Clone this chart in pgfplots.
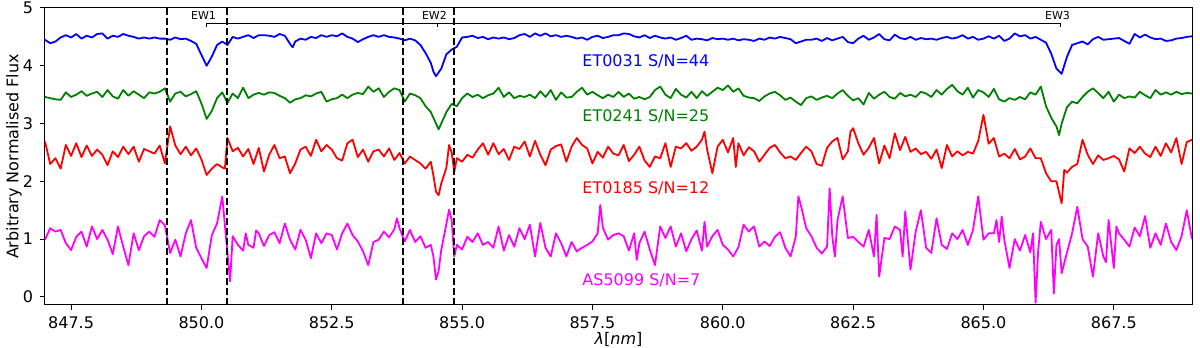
\documentclass[border=0pt]{standalone}
\usepackage{fontspec}
\setmainfont{DejaVu Sans}
\usepackage{pgfplots}
\pgfplotsset{compat=1.18}
\definecolor{mplblue}{rgb}{0,0,1}
\definecolor{mplgreen}{rgb}{0,0.5,0}
\definecolor{mplred}{rgb}{1,0,0}
\definecolor{mplmagenta}{rgb}{1,0,1}

\begin{document}
\begin{tikzpicture}
\begin{axis}[
  scale only axis, width=573.5pt, height=148.5pt,
  xmin=847, xmax=869, ymin=-0.14, ymax=5,
  xtick={847.5,850,852.5,855,857.5,860,862.5,865,867.5},
  ytick={0,1,2,3,4,5},
  tick align=outside, tick pos=left, major tick length=2.5pt,
  tick style={line width=0.5pt, black},
  font=\fontsize{8}{9.6}\selectfont,
  ticklabel style={font=\fontsize{8}{9.6}\selectfont},
  /pgf/number format/assume math mode=true,
  xticklabel style={/pgf/number format/.cd, fixed, fixed zerofill, precision=1},
  yticklabel style={/pgf/number format/.cd, fixed, precision=0},
  xlabel={\textit{λ}[\textit{nm}]},
  ylabel={Arbitrary Normalised Flux},
  xlabel style={at={([yshift=-17pt]axis description cs:0.5,0)}, anchor=center},
  ylabel style={at={([xshift=-15.5pt]axis description cs:0,0.5)}, anchor=center},
  axis line style={line width=0.5pt},
  every axis plot/.append style={line width=0.9pt, line join=round},
]
% ET0031
\addplot[mplblue] coordinates {
(847.0,4.45)(847.1,4.39)(847.2,4.42)(847.3,4.49)(847.4,4.53)(847.5,4.49)(847.6,4.55)(847.7,4.47)(847.8,4.52)(847.9,4.49)
(848.0,4.55)(848.1,4.56)(848.2,4.47)(848.3,4.52)(848.4,4.50)(848.5,4.55)(848.6,4.52)(848.7,4.50)(848.8,4.47)(848.9,4.49)
(849.0,4.47)(849.1,4.49)(849.2,4.47)(849.3,4.47)(849.4,4.45)(849.5,4.49)(849.6,4.46)(849.7,4.47)(849.8,4.43)(849.9,4.38)
(850.0,4.19)(850.1,4.00)(850.2,4.16)(850.3,4.36)(850.4,4.42)(850.5,4.36)(850.6,4.50)(850.7,4.47)
(850.8,4.50)(850.9,4.53)(851.0,4.48)(851.1,4.53)(851.2,4.53)(851.3,4.52)(851.4,4.50)(851.5,4.55)(851.6,4.52)(851.7,4.38)(851.75,4.32)(851.8,4.42)(851.9,4.47)
(852.0,4.45)(852.1,4.50)(852.2,4.48)(852.3,4.53)(852.4,4.50)(852.5,4.53)(852.6,4.51)(852.7,4.56)(852.8,4.50)(852.9,4.47)
(853.0,4.41)(853.1,4.46)(853.2,4.50)(853.3,4.53)(853.4,4.50)(853.5,4.53)(853.6,4.50)(853.7,4.49)(853.8,4.47)(853.9,4.44)
(854.0,4.47)(854.1,4.44)(854.2,4.36)(854.3,4.22)(854.4,4.05)(854.45,3.90)(854.5,3.82)(854.6,3.95)(854.7,4.20)(854.8,4.28)(854.9,4.33)
(855.0,4.49)(855.1,4.50)(855.2,4.52)(855.3,4.48)(855.4,4.50)(855.5,4.46)(855.6,4.49)(855.7,4.47)(855.8,4.49)(855.9,4.46)
(856.0,4.48)(856.1,4.53)(856.2,4.55)(856.3,4.50)(856.4,4.56)(856.5,4.52)(856.6,4.56)(856.7,4.51)(856.8,4.53)(856.9,4.50)
(857.0,4.52)(857.1,4.50)(857.2,4.47)(857.3,4.49)(857.4,4.45)(857.5,4.50)(857.6,4.52)(857.7,4.48)(857.8,4.50)(857.9,4.53)
(858.0,4.53)(858.1,4.56)(858.2,4.55)(858.3,4.51)(858.4,4.49)(858.5,4.53)(858.6,4.48)(858.7,4.52)(858.8,4.49)(858.9,4.47)
(859.0,4.49)(859.1,4.45)(859.2,4.48)(859.3,4.52)(859.4,4.45)(859.5,4.47)(859.6,4.46)(859.7,4.44)(859.8,4.48)(859.9,4.46)
(860.0,4.47)(860.1,4.45)(860.2,4.47)(860.3,4.44)(860.4,4.46)(860.5,4.45)(860.6,4.43)(860.7,4.47)(860.8,4.45)(860.9,4.49)
(861.0,4.47)(861.1,4.50)(861.2,4.48)(861.3,4.46)(861.4,4.39)(861.5,4.42)(861.6,4.45)(861.7,4.45)(861.8,4.47)(861.9,4.43)
(862.0,4.48)(862.1,4.44)(862.2,4.47)(862.3,4.50)(862.4,4.41)(862.5,4.39)(862.6,4.47)(862.7,4.52)(862.8,4.45)(862.9,4.49)
(863.0,4.55)(863.1,4.46)(863.2,4.44)(863.3,4.54)(863.4,4.48)(863.5,4.46)(863.6,4.50)(863.7,4.45)(863.8,4.48)(863.9,4.46)
(864.0,4.47)(864.1,4.45)(864.2,4.48)(864.3,4.50)(864.4,4.47)(864.5,4.49)(864.6,4.53)(864.7,4.47)(864.8,4.50)(864.9,4.45)
(865.0,4.47)(865.1,4.51)(865.2,4.47)(865.3,4.52)(865.4,4.43)(865.5,4.47)(865.6,4.56)(865.7,4.51)(865.8,4.53)(865.9,4.47)
(866.0,4.50)(866.1,4.45)(866.2,4.40)(866.3,4.21)(866.4,3.95)(866.5,3.86)(866.6,4.15)(866.7,4.36)(866.8,4.39)(866.9,4.42)
(867.0,4.37)(867.1,4.46)(867.2,4.50)(867.3,4.45)(867.4,4.46)(867.5,4.47)(867.6,4.48)(867.7,4.43)(867.8,4.38)(867.9,4.55)
(868.0,4.49)(868.1,4.54)(868.2,4.49)(868.3,4.46)(868.4,4.47)(868.5,4.43)(868.6,4.44)(868.7,4.47)(868.8,4.48)(868.9,4.50)(869.0,4.51)
};
% ET0241
\addplot[mplgreen] coordinates {
(847.0,3.46)(847.1,3.44)(847.2,3.42)(847.3,3.41)(847.4,3.54)(847.5,3.46)(847.6,3.50)(847.7,3.56)(847.8,3.48)(847.9,3.52)
(848.0,3.55)(848.1,3.46)(848.2,3.58)(848.3,3.47)(848.4,3.43)(848.5,3.58)(848.6,3.48)(848.7,3.56)(848.8,3.50)(848.9,3.44)
(849.0,3.54)(849.1,3.52)(849.2,3.55)(849.3,3.61)(849.4,3.38)(849.5,3.52)(849.6,3.55)(849.7,3.47)(849.8,3.51)(849.9,3.56)
(850.0,3.35)(850.1,3.08)(850.2,3.22)(850.3,3.44)(850.4,3.54)(850.5,3.36)(850.6,3.52)(850.7,3.44)
(850.8,3.62)(850.9,3.44)(851.0,3.50)(851.1,3.53)(851.2,3.50)(851.3,3.54)(851.4,3.53)(851.5,3.48)(851.6,3.44)(851.7,3.36)(851.8,3.42)(851.9,3.44)
(852.0,3.49)(852.1,3.47)(852.2,3.52)(852.3,3.55)(852.4,3.38)(852.5,3.42)(852.6,3.44)(852.7,3.50)(852.8,3.44)(852.9,3.50)
(853.0,3.53)(853.1,3.51)(853.2,3.64)(853.3,3.55)(853.4,3.61)(853.5,3.46)(853.6,3.55)(853.7,3.61)(853.8,3.58)(853.9,3.38)
(854.0,3.52)(854.1,3.49)(854.2,3.44)(854.3,3.30)(854.4,3.20)(854.5,3.00)(854.55,2.90)(854.6,3.00)(854.7,3.20)(854.8,3.34)(854.9,3.30)
(855.0,3.44)(855.1,3.52)(855.2,3.46)(855.3,3.50)(855.4,3.44)(855.5,3.49)(855.6,3.52)(855.7,3.62)(855.8,3.46)(855.9,3.54)
(856.0,3.44)(856.1,3.48)(856.2,3.46)(856.3,3.50)(856.4,3.44)(856.5,3.56)(856.6,3.46)(856.7,3.58)(856.8,3.41)(856.9,3.54)
(857.0,3.45)(857.1,3.46)(857.2,3.55)(857.3,3.62)(857.4,3.50)(857.5,3.55)(857.6,3.49)(857.7,3.44)(857.8,3.50)(857.9,3.46)
(858.0,3.55)(858.1,3.46)(858.2,3.52)(858.3,3.43)(858.4,3.46)(858.5,3.42)(858.6,3.46)(858.7,3.58)(858.8,3.64)(858.9,3.50)
(859.0,3.44)(859.1,3.60)(859.2,3.50)(859.3,3.45)(859.4,3.55)(859.5,3.44)(859.6,3.56)(859.7,3.48)(859.8,3.55)(859.9,3.62)
(860.0,3.58)(860.1,3.66)(860.2,3.55)(860.3,3.61)(860.4,3.48)(860.5,3.45)(860.6,3.44)(860.7,3.39)(860.8,3.47)(860.9,3.52)
(861.0,3.55)(861.1,3.49)(861.2,3.41)(861.3,3.45)(861.4,3.38)(861.5,3.32)(861.6,3.44)(861.7,3.47)(861.8,3.41)(861.9,3.45)
(862.0,3.48)(862.1,3.44)(862.2,3.52)(862.3,3.58)(862.4,3.48)(862.5,3.40)(862.6,3.44)(862.7,3.33)(862.8,3.53)(862.9,3.43)
(863.0,3.50)(863.1,3.55)(863.2,3.46)(863.3,3.43)(863.4,3.53)(863.5,3.47)(863.6,3.50)(863.7,3.46)(863.8,3.55)(863.9,3.52)
(864.0,3.46)(864.1,3.58)(864.2,3.50)(864.3,3.60)(864.4,3.67)(864.5,3.56)(864.6,3.50)(864.7,3.62)(864.8,3.45)(864.9,3.58)
(865.0,3.54)(865.1,3.46)(865.2,3.60)(865.3,3.42)(865.4,3.38)(865.5,3.44)(865.6,3.41)(865.7,3.46)(865.8,3.42)(865.9,3.54)
(866.0,3.50)(866.1,3.64)(866.2,3.30)(866.3,3.10)(866.4,2.95)(866.45,2.80)(866.5,3.00)(866.6,3.28)(866.7,3.38)(866.8,3.35)(866.9,3.46)
(867.0,3.55)(867.1,3.61)(867.2,3.53)(867.3,3.44)(867.4,3.55)(867.5,3.38)(867.6,3.50)(867.7,3.44)(867.8,3.47)(867.9,3.45)
(868.0,3.55)(868.1,3.49)(868.2,3.44)(868.3,3.58)(868.4,3.50)(868.5,3.54)(868.6,3.50)(868.7,3.55)(868.8,3.51)(868.9,3.53)(869.0,3.52)
};
% ET0185
\addplot[mplred] coordinates {
(847.0,2.69)(847.1,2.30)(847.2,2.40)(847.3,2.22)(847.4,2.63)(847.5,2.44)(847.6,2.66)(847.7,2.42)(847.8,2.62)(847.9,2.44)
(848.0,2.55)(848.1,2.46)(848.2,2.28)(848.3,2.52)(848.4,2.42)(848.5,2.60)(848.6,2.47)(848.7,2.60)(848.8,2.34)(848.9,2.56)
(849.0,2.52)(849.1,2.48)(849.2,2.62)(849.3,2.31)(849.4,2.95)(849.5,2.62)(849.6,2.47)(849.7,2.60)(849.8,2.45)(849.9,2.57)
(850.0,2.38)(850.1,2.11)(850.2,2.22)(850.3,2.30)(850.4,2.24)(850.45,2.22)(850.5,2.75)(850.6,2.52)(850.7,2.58)
(850.8,2.43)(850.9,2.56)(851.0,2.30)(851.1,2.58)(851.2,2.17)(851.3,2.46)(851.4,2.63)(851.5,2.40)(851.6,2.43)(851.7,2.14)(851.8,2.31)(851.9,2.55)
(852.0,2.60)(852.1,2.44)(852.2,2.72)(852.3,2.52)(852.4,2.63)(852.5,2.55)(852.6,2.40)(852.7,2.36)(852.8,2.66)(852.9,2.72)
(853.0,2.42)(853.1,2.55)(853.2,2.34)(853.3,2.52)(853.4,2.55)(853.5,2.43)(853.6,2.57)(853.7,2.37)(853.8,2.49)(853.9,2.31)
(854.0,2.43)(854.1,2.37)(854.2,2.31)(854.3,2.22)(854.4,2.34)(854.45,2.10)(854.5,1.82)(854.55,1.76)(854.6,1.96)(854.7,2.24)(854.75,2.63)(854.8,2.50)(854.85,2.17)(854.9,2.40)
(855.0,2.34)(855.1,2.46)(855.2,2.41)(855.3,2.55)(855.4,2.66)(855.5,2.46)(855.6,2.66)(855.7,2.47)(855.8,2.56)(855.9,2.37)
(856.0,2.60)(856.1,2.56)(856.2,2.69)(856.3,2.43)(856.4,2.70)(856.5,2.46)(856.6,2.28)(856.7,2.55)(856.8,2.61)(856.9,2.64)
(857.0,2.34)(857.1,2.60)(857.2,2.75)(857.3,2.63)(857.4,2.57)(857.5,2.31)(857.6,2.51)(857.7,2.41)(857.8,2.60)(857.9,2.48)
(858.0,2.45)(858.1,2.63)(858.2,2.35)(858.3,2.46)(858.4,2.60)(858.5,2.36)(858.6,2.25)(858.7,2.43)(858.8,2.40)(858.9,2.66)
(859.0,2.25)(859.1,2.60)(859.2,2.57)(859.3,2.66)(859.4,2.53)(859.5,2.60)(859.6,2.72)(859.65,2.86)(859.7,2.55)(859.8,2.14)(859.9,2.60)
(860.0,2.72)(860.1,2.50)(860.2,2.75)(860.25,2.25)(860.3,2.66)(860.4,2.45)(860.5,2.59)(860.6,2.52)(860.7,2.34)(860.8,2.46)(860.9,2.58)
(861.0,2.63)(861.1,2.50)(861.2,2.40)(861.3,2.43)(861.4,2.37)(861.5,2.49)(861.6,2.60)(861.7,2.52)(861.8,2.30)(861.9,2.27)
(862.0,2.58)(862.1,2.69)(862.2,2.75)(862.3,2.38)(862.4,2.52)(862.45,2.86)(862.5,2.92)(862.6,2.66)(862.7,2.46)(862.8,2.58)(862.9,2.75)
(863.0,2.31)(863.1,2.62)(863.2,2.40)(863.3,2.83)(863.4,2.54)(863.5,2.77)(863.6,2.51)(863.7,2.57)(863.8,2.47)(863.9,2.51)
(864.0,2.39)(864.1,2.55)(864.2,2.23)(864.3,2.63)(864.4,2.43)(864.5,2.52)(864.6,2.45)(864.7,2.51)(864.8,2.48)(864.9,2.70)
(865.0,3.15)(865.1,2.65)(865.2,2.75)(865.3,2.43)(865.4,2.48)(865.5,2.40)(865.6,2.56)(865.7,2.38)(865.8,2.43)(865.9,2.57)
(866.0,2.40)(866.1,2.40)(866.2,2.14)(866.3,2.00)(866.4,2.00)(866.5,1.62)(866.55,2.20)(866.6,2.15)(866.7,2.25)(866.8,2.30)(866.9,2.72)
(867.0,2.46)(867.1,2.30)(867.2,2.45)(867.3,2.37)(867.4,2.40)(867.5,2.44)(867.6,2.38)(867.7,2.17)(867.8,2.57)(867.9,2.49)
(868.0,2.60)(868.1,2.48)(868.2,2.42)(868.3,2.60)(868.4,2.44)(868.5,2.66)(868.6,2.50)(868.7,2.75)(868.8,2.30)(868.9,2.68)(869.0,2.72)
};
% AS5099
\addplot[mplmagenta] coordinates {
(847.0,0.99)(847.1,1.19)(847.2,1.13)(847.3,1.16)(847.4,0.93)(847.5,0.81)(847.6,1.04)(847.7,1.13)(847.8,0.87)(847.9,1.22)
(848.0,1.00)(848.1,1.16)(848.2,0.99)(848.3,0.74)(848.4,1.22)(848.5,0.87)(848.6,0.55)(848.7,1.10)(848.8,0.81)(848.9,1.05)
(849.0,1.13)(849.1,1.04)(849.2,1.33)(849.3,1.24)(849.4,0.76)(849.5,0.99)(849.6,0.70)(849.7,1.10)(849.8,1.33)(849.9,0.85)
(850.0,0.67)(850.1,0.50)(850.2,1.07)(850.3,1.27)(850.4,1.74)(850.5,0.76)(850.55,0.27)(850.6,1.05)(850.7,0.90)
(850.8,0.80)(850.85,1.10)(850.9,0.90)(851.0,0.85)(851.05,1.15)(851.1,1.10)(851.2,0.88)(851.3,1.07)(851.4,1.12)(851.5,0.93)(851.6,1.27)(851.7,0.99)(851.8,0.82)(851.9,1.16)
(852.0,0.99)(852.1,0.67)(852.2,1.10)(852.3,0.93)(852.4,1.10)(852.5,1.07)(852.6,0.82)(852.7,1.10)(852.8,1.27)(852.9,1.07)
(853.0,0.96)(853.1,0.79)(853.2,0.55)(853.3,0.95)(853.4,0.99)(853.5,1.13)(853.6,1.03)(853.7,1.17)(853.75,1.36)(853.8,1.19)(853.9,0.96)
(854.0,1.16)(854.1,0.95)(854.2,1.05)(854.3,0.85)(854.4,0.90)(854.45,0.70)(854.5,0.30)(854.55,0.45)(854.6,0.81)(854.7,1.27)(854.75,1.51)(854.8,1.33)(854.85,0.70)(854.9,0.90)
(855.0,0.82)(855.1,1.04)(855.2,0.95)(855.3,1.10)(855.4,0.90)(855.5,0.95)(855.6,0.85)(855.7,1.22)(855.8,0.80)(855.9,1.07)
(856.0,0.87)(856.1,1.19)(856.2,1.00)(856.3,1.25)(856.4,0.70)(856.5,1.28)(856.6,0.85)(856.7,0.70)(856.8,1.10)(856.9,0.93)
(857.0,0.70)(857.1,0.95)(857.2,0.79)(857.3,0.85)(857.4,0.90)(857.5,0.96)(857.6,1.10)(857.65,1.59)(857.7,1.20)(857.8,0.99)(857.9,1.07)
(858.0,1.10)(858.1,1.05)(858.2,0.80)(858.3,1.10)(858.35,0.64)(858.4,0.93)(858.5,1.13)(858.6,0.82)(858.7,0.55)(858.8,1.22)(858.9,1.02)
(859.0,1.22)(859.1,0.87)(859.2,1.10)(859.3,0.79)(859.4,1.00)(859.5,1.15)(859.6,0.80)(859.65,1.30)(859.7,0.87)(859.8,1.05)(859.9,1.16)
(860.0,0.90)(860.1,0.82)(860.2,0.70)(860.3,0.86)(860.4,1.25)(860.5,1.13)(860.6,1.22)(860.7,0.87)(860.8,0.96)(860.9,0.88)
(861.0,1.04)(861.1,1.12)(861.2,0.85)(861.3,0.70)(861.4,1.04)(861.45,1.74)(861.5,1.58)(861.6,1.19)(861.7,1.05)(861.8,0.85)(861.9,0.75)
(862.0,0.87)(862.05,1.88)(862.1,1.05)(862.15,0.70)(862.2,1.33)(862.3,1.74)(862.4,1.02)(862.5,1.04)(862.6,0.95)(862.7,0.87)(862.8,1.16)(862.9,0.70)(862.95,1.42)
(863.0,0.35)(863.1,1.02)(863.2,1.00)(863.3,1.22)(863.4,1.16)(863.45,0.70)(863.5,1.48)(863.6,0.47)(863.7,1.13)(863.8,1.50)(863.9,0.85)
(864.0,0.76)(864.1,1.36)(864.2,0.90)(864.3,0.83)(864.4,1.10)(864.5,1.00)(864.6,1.16)(864.7,0.90)(864.8,1.16)(864.9,1.74)
(865.0,0.99)(865.1,1.10)(865.2,1.10)(865.25,1.33)(865.3,0.95)(865.35,1.39)(865.4,0.99)(865.5,0.50)(865.6,1.00)(865.7,0.80)(865.8,1.07)(865.9,0.77)(865.95,1.10)
(866.0,-0.10)(866.05,0.80)(866.1,1.30)(866.2,1.00)(866.3,1.16)(866.35,0.06)(866.4,0.90)(866.45,1.00)(866.5,0.41)(866.6,0.76)(866.7,1.10)(866.8,1.56)(866.9,1.00)
(867.0,0.87)(867.1,0.35)(867.2,1.10)(867.3,0.70)(867.35,0.60)(867.4,1.33)(867.5,0.50)(867.55,1.22)(867.6,1.10)(867.7,0.99)(867.8,0.87)(867.9,1.20)
(868.0,1.05)(868.1,1.40)(868.2,0.85)(868.3,1.10)(868.4,0.90)(868.5,1.27)(868.6,0.95)(868.7,0.81)(868.8,1.05)(868.9,1.50)(869.0,1.00)
};
% continuum windows
\draw[black, line width=0.9pt, dash pattern=on 3.5pt off 1.5pt] (axis cs:849.34,-0.14) -- (axis cs:849.34,5);
\draw[black, line width=0.9pt, dash pattern=on 3.5pt off 1.5pt] (axis cs:850.49,-0.14) -- (axis cs:850.49,5);
\draw[black, line width=0.9pt, dash pattern=on 3.5pt off 1.5pt] (axis cs:853.86,-0.14) -- (axis cs:853.86,5);
\draw[black, line width=0.9pt, dash pattern=on 3.5pt off 1.5pt] (axis cs:854.85,-0.14) -- (axis cs:854.85,5);
% EW bracket
\draw[black, line width=0.6pt] (axis cs:850.10,4.665) -- (axis cs:850.10,4.735) -- (axis cs:866.48,4.735) -- (axis cs:866.48,4.665);
\draw[black, line width=0.6pt] (axis cs:854.53,4.735) -- (axis cs:854.53,4.665);
\node[anchor=base, inner sep=0, font=\fontsize{5.5}{6}\selectfont] at (axis cs:850.04,4.80) {EW1};
\node[anchor=base, inner sep=0, font=\fontsize{5.5}{6}\selectfont] at (axis cs:854.47,4.80) {EW2};
\node[anchor=base, inner sep=0, font=\fontsize{5.5}{6}\selectfont] at (axis cs:866.42,4.80) {EW3};
% labels
\node[anchor=base west, inner sep=0, text=mplblue] at (axis cs:857.30,3.98) {ET0031 S/N=44};
\node[anchor=base west, inner sep=0, text=mplgreen] at (axis cs:857.30,3.03) {ET0241 S/N=25};
\node[anchor=base west, inner sep=0, text=mplred] at (axis cs:857.30,1.79) {ET0185 S/N=12};
\node[anchor=base west, inner sep=0, text=mplmagenta] at (axis cs:857.30,0.19) {AS5099 S/N=7};
\end{axis}
\pgfresetboundingbox
\path ([shift={(-22.5pt,-21.5pt)}]current axis.south west) rectangle ([shift={(4pt,4pt)}]current axis.north east);
\end{tikzpicture}
\end{document}
